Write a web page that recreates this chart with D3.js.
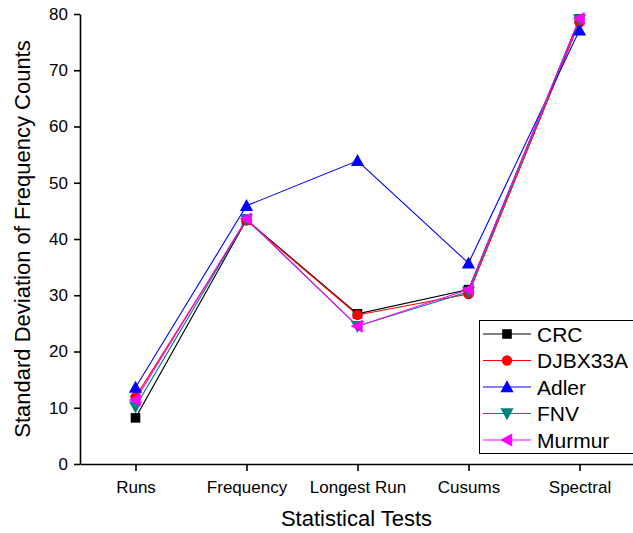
<!DOCTYPE html>
<html>
<head>
<meta charset="utf-8">
<script src="https://cdn.jsdelivr.net/npm/d3@7"></script>
<style>
  html, body { margin: 0; padding: 0; background: #fff; }
  svg { display: block; font-family: "Liberation Sans", Arial, sans-serif; }
</style>
</head>
<body>
<svg id="chart" width="633" height="533"></svg>
<script>
// Statistical test categories along the x axis
const categories = ["Runs", "Frequency", "Longest Run", "Cusums", "Spectral"];

// Standard deviation of frequency counts per hash function
const crc     = [8.2, 43.4, 26.7, 31.0, 79.1];
const djbx33a = [11.9, 43.3, 26.5, 30.2, 78.5];
const adler   = [13.6, 45.9, 53.9, 35.7, 77.1];
const fnv     = [10.2, 43.5, 24.5, 30.6, 79.0];
const murmur  = [11.4, 43.6, 24.5, 31.0, 79.2];

const yTicks = [0, 10, 20, 30, 40, 50, 60, 70, 80];

const series = [
  { name: "CRC",     values: crc,     color: "#000000", symbol: "square" },
  { name: "DJBX33A", values: djbx33a, color: "#ff0000", symbol: "circle" },
  { name: "Adler",   values: adler,   color: "#0000ff", symbol: "up" },
  { name: "FNV",     values: fnv,     color: "#008080", symbol: "down" },
  { name: "Murmur",  values: murmur,  color: "#ff00ff", symbol: "left" }
];

const svg = d3.select("#chart");
const margin = { left: 80, top: 14, bottom: 69 };
const plotRight = 635;

const x = d3.scaleLinear().domain([0.5, categories.length + 0.5]).range([margin.left, plotRight]);
const y = d3.scaleLinear().domain([0, 80]).range([533 - margin.bottom, margin.top]);

// Marker path generators centred on the origin
function markerPath(kind) {
  switch (kind) {
    case "square": return "M-4.8,-4.8H4.8V4.8H-4.8Z";
    case "circle": return d3.symbol(d3.symbolCircle, 85)();
    case "up":     return "M0,-6.8L6.6,5.2L-6.6,5.2Z";
    case "down":   return "M0,6.8L6.6,-5.2L-6.6,-5.2Z";
    case "left":   return "M-6.8,0L5.2,-6.6L5.2,6.6Z";
  }
}

// Axes
const xAxis = d3.axisBottom(x)
  .tickValues(d3.range(1, categories.length + 1))
  .tickFormat(i => categories[i - 1])
  .tickSize(7).tickPadding(10).tickSizeOuter(0);
const gx = svg.append("g").attr("transform", `translate(0,${y(0)})`).call(xAxis);

const yAxis = d3.axisLeft(y).tickValues(yTicks).tickSize(6).tickPadding(6).tickSizeOuter(0);
const gy = svg.append("g").attr("transform", `translate(${margin.left},0)`).call(yAxis);

[gx, gy].forEach(g => {
  g.select(".domain").attr("stroke", "#000").attr("stroke-width", 1.6);
  g.selectAll(".tick line").attr("stroke", "#000").attr("stroke-width", 1.6);
  g.selectAll(".tick text").attr("fill", "#000").style("font-size", "17px")
    .style("font-family", "Liberation Sans, Arial, sans-serif");
});

// Axis titles
svg.append("text")
  .attr("x", (margin.left + plotRight) / 2 - 1)
  .attr("y", 526)
  .attr("text-anchor", "middle")
  .style("font-size", "22px")
  .text("Statistical Tests");

svg.append("text")
  .attr("transform", `translate(30,${(y(0) + y(80)) / 2}) rotate(-90)`)
  .attr("text-anchor", "middle")
  .style("font-size", "22px")
  .text("Standard Deviation of Frequency Counts");

// Lines and markers
const line = d3.line().x((d, i) => x(i + 1)).y(d => y(d));

series.forEach(s => {
  svg.append("path")
    .datum(s.values)
    .attr("d", line)
    .attr("fill", "none")
    .attr("stroke", s.color)
    .attr("stroke-width", 1.1);
});
series.forEach(s => {
  svg.append("g").selectAll("path")
    .data(s.values)
    .join("path")
    .attr("transform", (d, i) => `translate(${x(i + 1)},${y(d)})`)
    .attr("d", markerPath(s.symbol))
    .attr("fill", s.color);
});

// Legend
const legend = svg.append("g").attr("transform", "translate(479,320)");
legend.append("rect")
  .attr("x", 0.5).attr("y", 0.5)
  .attr("width", 160).attr("height", 133)
  .attr("fill", "#fff").attr("stroke", "#000").attr("stroke-width", 1);

series.forEach((s, i) => {
  const cy = 14 + i * 26.5;
  legend.append("line")
    .attr("x1", 4).attr("x2", 52).attr("y1", cy).attr("y2", cy)
    .attr("stroke", s.color).attr("stroke-width", 1.1);
  legend.append("path")
    .attr("transform", `translate(28,${cy})`)
    .attr("d", markerPath(s.symbol))
    .attr("fill", s.color);
  legend.append("text")
    .attr("x", 58).attr("y", cy + 7.5)
    .style("font-size", "21px")
    .text(s.name);
});
</script>
</body>
</html>
